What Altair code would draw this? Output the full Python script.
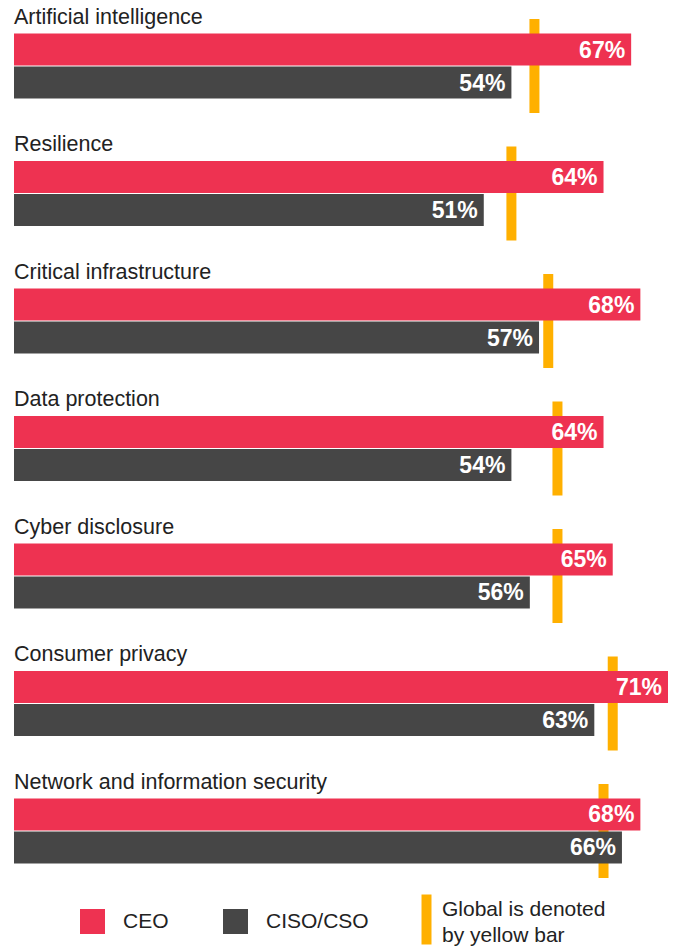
import altair as alt
import pandas as pd

# ---- data ----
categories = [
    "Artificial intelligence",
    "Resilience",
    "Critical infrastructure",
    "Data protection",
    "Cyber disclosure",
    "Consumer privacy",
    "Network and information security",
]
ceo_values = [67, 64, 68, 64, 65, 71, 68]
ciso_values = [54, 51, 57, 54, 56, 63, 66]
global_values = [56.5, 54, 58, 59, 59, 65, 64]
series_names = ["CEO", "CISO/CSO"]
global_key = ["Global"]
global_label = ["Global is denoted", "by yellow bar"]

RED = "#EE3251"
DARK = "#464646"
YELLOW = "#FFB000"
TEXT = "#222222"
FONT = "Liberation Sans"

bars_df = pd.DataFrame(
    [
        {"category": c, "series": s, "value": v, "label": f"{v}%"}
        for s, vals in zip(series_names, [ceo_values, ciso_values])
        for c, v in zip(categories, vals)
    ]
)
global_df = pd.DataFrame(
    {"category": categories, "global": global_values, "key": global_key * len(categories)}
)
titles_df = pd.DataFrame({"category": categories})

x_scale = alt.Scale(domain=[0, 71], nice=False, zero=True)
y_scale = alt.Scale(paddingInner=0.2627, paddingOuter=0)
yoff_scale = alt.Scale(domain=series_names, paddingInner=0.0303, paddingOuter=0.4394)


def Y(**kw):
    return alt.Y("category:N", sort=categories, scale=y_scale, axis=None, **kw)


def X(field):
    return alt.X(f"{field}:Q", scale=x_scale, axis=None)


yoff = alt.YOffset("series:N", sort=series_names, scale=yoff_scale)

label_expr = "[" + ", ".join(f"'{s}'" for s in global_label) + "]"

global_layer = alt.Chart(global_df).mark_tick(thickness=10, size=94, opacity=1).encode(
    x=X("global"),
    y=Y(),
    color=alt.Color(
        "key:N",
        scale=alt.Scale(domain=global_key, range=[YELLOW]),
        legend=alt.Legend(
            orient="none",
            legendX=400,
            legendY=878,
            title=None,
            padding=0,
            symbolType="M-0.4,-1.2V2.8H0.4V-1.2Z",
            symbolSize=625,
            symbolStrokeWidth=0,
            symbolOpacity=1,
            labelExpr=label_expr,
            labelFont=FONT,
            labelFontSize=21,
            labelColor=TEXT,
            labelOffset=3,
            labelLimit=400,
        ),
    ),
)

bar_layer = alt.Chart(bars_df).mark_bar(opacity=1).encode(
    x=X("value"),
    y=Y(),
    yOffset=yoff,
    color=alt.Color(
        "series:N",
        sort=series_names,
        scale=alt.Scale(domain=series_names, range=[RED, DARK]),
        legend=alt.Legend(
            orient="none",
            legendX=66,
            legendY=890,
            direction="horizontal",
            title=None,
            padding=0,
            symbolType="square",
            symbolSize=625,
            symbolStrokeWidth=0,
            symbolOpacity=1,
            labelFont=FONT,
            labelFontSize=21,
            labelColor=TEXT,
            labelOffset=18,
            columnPadding=54,
            labelLimit=300,
        ),
    ),
)

label_layer = alt.Chart(bars_df).mark_text(
    align="right",
    baseline="middle",
    dx=-6,
    dy=1,
    font=FONT,
    fontSize=23,
    fontWeight="bold",
    color="white",
).encode(x=X("value"), y=Y(), yOffset=yoff, text="label:N")

title_layer = alt.Chart(titles_df).mark_text(
    align="left",
    baseline="alphabetic",
    dy=5,
    font=FONT,
    fontSize=21.5,
    color=TEXT,
).encode(x=alt.datum(0), y=Y(bandPosition=0), text="category:N")

chart = (
    alt.layer(global_layer, bar_layer, label_layer, title_layer)
    .resolve_scale(color="independent")
    .properties(
        width=654,
        height=859,
        autosize=alt.AutoSizeParams(type="none"),
        padding={"left": 6, "top": 11, "right": 2, "bottom": 70},
    )
    .configure(style={"guide-label": {"lineHeight": 26}})
    .configure_view(stroke=None)
)

chart.save("out.html", embed_options={"renderer": "svg", "actions": False})
